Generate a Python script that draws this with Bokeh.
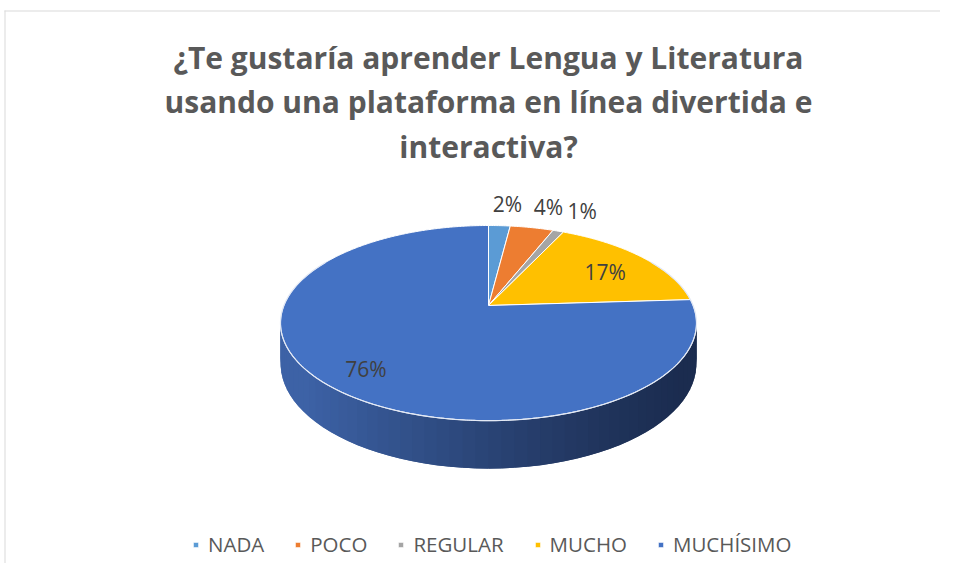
import numpy as np
from bokeh.plotting import figure
from bokeh.models import Range1d, Legend, LegendItem, ColumnDataSource
from bokeh.core.properties import value
from bokeh.embed import file_html
from bokeh.resources import INLINE

# ---- data ----
title_lines = ["¿Te gustaría aprender Lengua y Literatura",
               "usando una plataforma en línea divertida e",
               "interactiva?"]
categories = ["NADA", "POCO", "REGULAR", "MUCHO", "MUCHÍSIMO"]
percentages = [2, 4, 1, 17, 76]
colors = ["#5B9BD5", "#ED7D31", "#A5A5A5", "#FFC000", "#4472C4"]

# ---- layout ----
W, H = 940, 563
FONT = "Open Sans"
p = figure(width=W, height=H, x_range=Range1d(0, W), y_range=Range1d(H, 0),
           output_backend="svg", toolbar_location=None, min_border=0)
p.axis.visible = False
p.grid.visible = False
p.outline_line_color = None
p.background_fill_color = "white"
p.border_fill_color = "white"

# perspective projection of the pie disc
CX, CY = 488, 305
A, K, B, D = 94.4, 0.18, 204.6, 39.4


def proj(a_deg, r=1.0, depth=0.0):
    a = np.radians(a_deg)
    u, v = np.sin(a), np.cos(a)
    s = 1.0 / (1.0 + K * v)
    return CX + B * r * u * s, CY - A * r * v * s + D * s * depth


total = float(sum(percentages))
bounds = np.concatenate([[0], np.cumsum(percentages)]) / total * 360.0

# side (only the front is visible) with gradient strips (overlapping to avoid seams)
side_xs, side_ys, side_cols = [], [], []
c0 = np.array([0x3D, 0x62, 0xA6])
c1 = np.array([0x1B, 0x2C, 0x4F])
angs = np.linspace(300, 60, 81)  # draw from right to left so left strips overlap
step = angs[0] - angs[1]
for a0 in angs[:-1]:
    a1 = a0 - step * 2.0
    xt0, yt0 = proj(a0)
    xt1, yt1 = proj(a1)
    xb0, yb0 = proj(a0, depth=1)
    xb1, yb1 = proj(a1, depth=1)
    xm = (xt0 + xt1) / 2
    t = np.clip((690 - xm) / 380.0, 0, 1)  # 0 on right, 1 on left
    t = t ** 1.2
    c = (c1 + (c0 - c1) * t).astype(int)
    side_cols.append("#%02x%02x%02x" % tuple(c))
    side_xs.append([xt0, xt1, xb1, xb0])
    side_ys.append([yt0, yt1, yb1, yb0])
p.patches(side_xs, side_ys, fill_color=side_cols, line_color=None)

rim_a = np.linspace(60, 300, 200)
rx, ry = proj(rim_a)

# top face slices
xs, ys = [], []
for i in range(len(percentages)):
    a = np.linspace(bounds[i], bounds[i + 1], max(3, int((bounds[i + 1] - bounds[i]) * 2)))
    px, py = proj(a)
    xs.append([CX] + list(px))
    ys.append([CY] + list(py))
src = ColumnDataSource(dict(xs=xs, ys=ys, color=colors, label=categories))
top = p.patches("xs", "ys", source=src, fill_color="color", line_color="white", line_width=1)
p.line(rx, ry, line_color="#e3e9f5", line_width=1.2)

# data labels (small slices outside, large inside)
lx, ly, lt = [], [], []
for i, pc in enumerate(percentages):
    mid = (bounds[i] + bounds[i + 1]) / 2
    if pc < 5:
        x, y = proj(mid, r=1.27)
        x += 5
    else:
        x, y = proj(mid, r=0.76)
        y += 3
    lx.append(x)
    ly.append(y)
    lt.append("%d%%" % pc)
p.text(lx, ly, text=lt, text_align="center", text_baseline="middle",
       text_font=value(FONT), text_font_size="21px", text_color="#404040")

# title
p.text([CX] * 3, [57, 101, 146], text=title_lines, text_align="center", text_baseline="middle",
       text_font=value(FONT), text_font_style="bold", text_font_size="30px", text_color="#595959")

# chart border (top and left)
p.line([4, W], [10.5, 10.5], line_color="#d9d9d9", line_width=1)
p.line([4.5, 4.5], [10, H], line_color="#d9d9d9", line_width=1)

# legend
items = [LegendItem(label=c, renderers=[top], index=i) for i, c in enumerate(categories)]
legend = Legend(items=items, orientation="horizontal", location=(192, 5),
                glyph_width=7, glyph_height=7, label_standoff=9, spacing=30,
                label_text_font=FONT, label_text_font_size="20.5px", label_text_color="#595959",
                padding=0, margin=0, border_line_color=None, background_fill_alpha=0,
                label_height=20)
p.add_layout(legend, "center")

open("out.html", "w").write(file_html(p, INLINE))
